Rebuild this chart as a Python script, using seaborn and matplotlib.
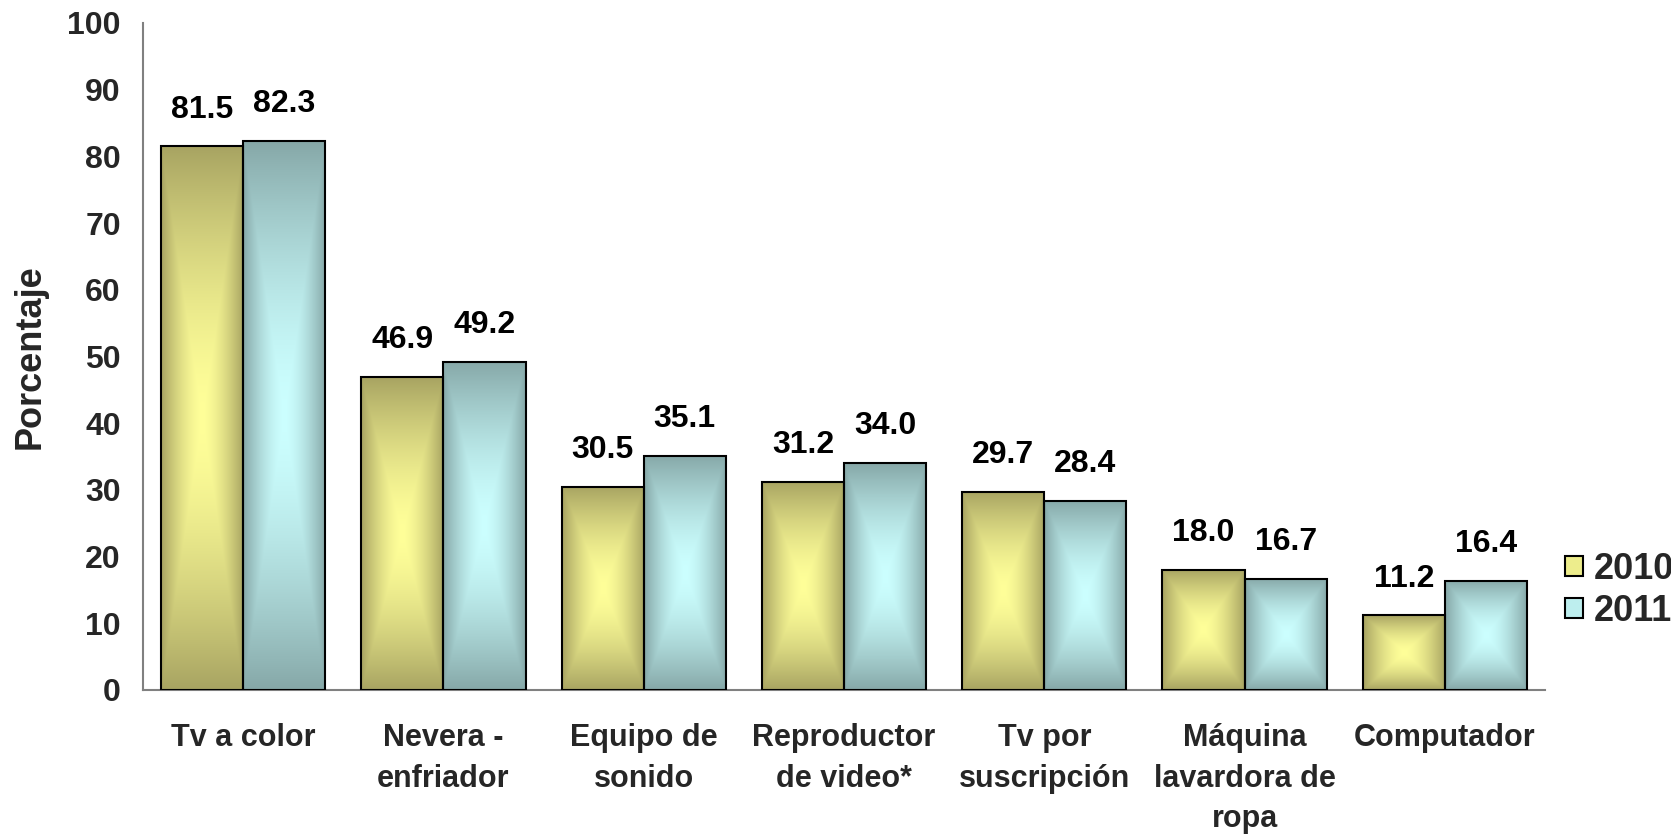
import numpy as np
import pandas as pd
import matplotlib
matplotlib.use("Agg")
import matplotlib.pyplot as plt
import seaborn as sns
from matplotlib.colors import to_rgb
from matplotlib.patches import Patch

# datos
categorias = ["Tv a color", "Nevera -\nenfriador", "Equipo de\nsonido", "Reproductor\nde video*",
              "Tv por\nsuscripción", "Máquina\nlavardora de\nropa", "Computador"]
anios = ["2010", "2011"]
valores_2010 = [81.5, 46.9, 30.5, 31.2, 29.7, 18.0, 11.2]
valores_2011 = [82.3, 49.2, 35.1, 34.0, 28.4, 16.7, 16.4]

# colores: borde oscuro -> centro claro
colores = {"2010": ("#A8A462", "#FFFF99"), "2011": ("#86A8A8", "#CCFFFF")}
legend_colores = {"2010": "#EDED8C", "2011": "#BDEEEE"}

df = pd.DataFrame({
    "categoria": categorias * 2,
    "anio": ["2010"] * len(categorias) + ["2011"] * len(categorias),
    "valor": valores_2010 + valores_2011,
})

sns.set_theme(style="white")
plt.rcParams["font.family"] = ["Liberation Sans", "DejaVu Sans"]
plt.rcParams["font.weight"] = "bold"

fig = plt.figure(figsize=(16.71, 8.35), dpi=100)
ax = fig.add_axes([0.0856, 0.1737, 0.839, 0.7988])

sns.barplot(data=df, x="categoria", y="valor", hue="anio", hue_order=anios,
            order=categorias, width=0.82, ax=ax, legend=False, errorbar=None)


def degradado(ax, bar, oscuro, claro):
    x, y = bar.get_x(), bar.get_y()
    w, h = bar.get_width(), bar.get_height()
    u = np.linspace(-1, 1, 80)
    v = np.linspace(-1, 1, 300)
    U, V = np.meshgrid(u, v)
    t = np.maximum(np.abs(U), np.abs(V))
    t = np.clip(t, 0, 1) ** 1.6
    c0 = np.array(to_rgb(claro))
    c1 = np.array(to_rgb(oscuro))
    img = c0[None, None, :] * (1 - t[..., None]) + c1[None, None, :] * t[..., None]
    im = ax.imshow(img, extent=[x, x + w, y, y + h], origin="lower",
                   aspect="auto", zorder=2, interpolation="bilinear")
    im.set_clip_path(bar)


for anio, cont in zip(anios, ax.containers):
    oscuro, claro = colores[anio]
    for bar in cont:
        bar.set_facecolor("none")
        bar.set_edgecolor("black")
        bar.set_linewidth(1.5)
        bar.set_zorder(3)
        degradado(ax, bar, oscuro, claro)
        ax.text(bar.get_x() + bar.get_width() / 2, bar.get_height() + 5.5,
                f"{bar.get_height():.1f}", ha="center", va="center",
                fontsize=23, fontweight="bold", color="black")

ax.set_xlim(-0.5, len(categorias) - 0.5)
ax.set_ylim(0, 100)
ax.set_yticks(range(0, 101, 10))
ax.set_xlabel("")
ax.set_ylabel("Porcentaje", fontsize=26, fontweight="bold", labelpad=14)

ax.set_xticks(range(len(categorias)))
ax.set_xticklabels(categorias, fontsize=22, fontweight="bold", linespacing=1.45, va="top")
ax.set_xticks(np.arange(-0.5, len(categorias), 1), minor=True)
ax.tick_params(axis="x", which="major", length=0, pad=24)
ax.tick_params(axis="x", which="minor", length=9, width=1.2, color="#808080", direction="out")
ax.tick_params(axis="y", length=10, width=1.2, color="#808080", direction="out",
               labelsize=23, pad=6)
for lab in ax.get_yticklabels():
    lab.set_fontweight("bold")

for s in ["top", "right"]:
    ax.spines[s].set_visible(False)
for s in ["left", "bottom"]:
    ax.spines[s].set_color("#808080")
    ax.spines[s].set_linewidth(1.5)

handles = [Patch(facecolor=legend_colores[a], edgecolor="black", linewidth=1.5) for a in anios]
leg = fig.legend(handles, anios, loc="center left", bbox_to_anchor=(0.917, 0.293),
                 frameon=False, prop={"size": 26, "weight": "bold"},
                 handlelength=0.5, handleheight=0.5, handletextpad=0.3, labelspacing=0.2)

fig.savefig("out.png", dpi=100)
